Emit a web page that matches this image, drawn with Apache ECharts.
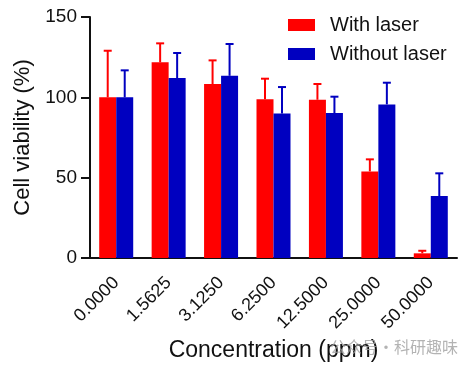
<!DOCTYPE html>
<html><head><meta charset="utf-8">
<script src="https://cdn.jsdelivr.net/npm/echarts@6/dist/echarts.min.js"></script>
<style>html,body{margin:0;padding:0;background:#fff}#c{width:474px;height:369px}</style>
</head><body><div id="c"></div>
<script>
var categories = ['0.0000','1.5625','3.1250','6.2500','12.5000','25.0000','50.0000'];
var withLaser = [100, 121.8, 108.3, 98.8, 98.5, 53.9, 2.9];
var withLaserSD = [29, 11.8, 14.7, 12.8, 9.8, 7.5, 1.6];
var withoutLaser = [100, 112, 113.4, 90, 90.2, 95.6, 38.6];
var withoutLaserSD = [16.8, 15.6, 19.8, 16.4, 10.2, 13.5, 14.1];
var yTicks = [0, 50, 100, 150];

var RED = '#ff0000', BLUE = '#0000c0';
var FONT = 'Liberation Sans, Arial, sans-serif';
var BW = 17;

function errSeries(vals, sds, color, side) {
  return {
    type: 'custom',
    z: 1,
    silent: true,
    data: vals.map(function (v, i) { return [i, v, v + sds[i]]; }),
    renderItem: function (params, api) {
      var base = api.coord([api.value(0), api.value(1)]);
      var top = api.coord([api.value(0), api.value(2)]);
      var x = base[0] + side * BW / 2;
      var st = { stroke: color, lineWidth: 2 };
      return { type: 'group', children: [
        { type: 'line', shape: { x1: x, y1: base[1], x2: x, y2: top[1] }, style: st },
        { type: 'line', shape: { x1: x - 4, y1: top[1], x2: x + 4, y2: top[1] }, style: st }
      ]};
    }
  };
}

var chart = echarts.init(document.getElementById('c'));
chart.setOption({
  animation: false,
  textStyle: { fontFamily: FONT },
  grid: { left: 90, right: 17, top: 17, bottom: 111, containLabel: false },
  legend: {
    left: 283, top: 10, orient: 'vertical', itemWidth: 27, itemHeight: 12, itemGap: 9,
    icon: 'rect',
    textStyle: { fontSize: 20, color: '#111', fontFamily: FONT, padding: [0, 0, 0, 10] },
    data: ['With laser', 'Without laser']
  },
  xAxis: {
    type: 'category', data: categories,
    name: 'Concentration (ppm)', nameLocation: 'middle', nameGap: 79,
    nameTextStyle: { fontSize: 23, color: '#111', fontFamily: FONT },
    axisLine: { lineStyle: { color: '#111', width: 2 } },
    axisTick: { alignWithLabel: true, length: 9, lineStyle: { color: '#111', width: 2 } },
    axisLabel: { rotate: 45, fontSize: 18, color: '#111', margin: 22, fontFamily: FONT }
  },
  yAxis: {
    type: 'value', min: 0, max: 150, interval: 50,
    name: 'Cell viability (%)', nameLocation: 'middle', nameGap: 56,
    nameTextStyle: { fontSize: 22, color: '#111', fontFamily: FONT },
    axisLine: { show: true, lineStyle: { color: '#111', width: 2 } },
    axisTick: { show: true, length: 9, lineStyle: { color: '#111', width: 2 } },
    axisLabel: { fontSize: 19, color: '#111', margin: 13, fontFamily: FONT,
      formatter: function (v) { return yTicks.indexOf(v) >= 0 ? String(v) : ''; } },
    splitLine: { show: false }
  },
  series: [
    { name: 'With laser', type: 'bar', data: withLaser, barWidth: BW, barGap: '0%', itemStyle: { color: RED }, z: 2 },
    { name: 'Without laser', type: 'bar', data: withoutLaser, barWidth: BW, barGap: '0%', itemStyle: { color: BLUE }, z: 2 },
    errSeries(withLaser, withLaserSD, RED, -1),
    errSeries(withoutLaser, withoutLaserSD, BLUE, 1)
  ],
  graphic: [{
    type: 'text', right: 16, top: 339, silent: true, z: 100,
    style: { text: '公众号·科研趣味', fontSize: 16, fill: 'rgba(160,160,160,0.8)', fontFamily: 'Noto Sans CJK SC, sans-serif' }
  }]
});
</script></body></html>
